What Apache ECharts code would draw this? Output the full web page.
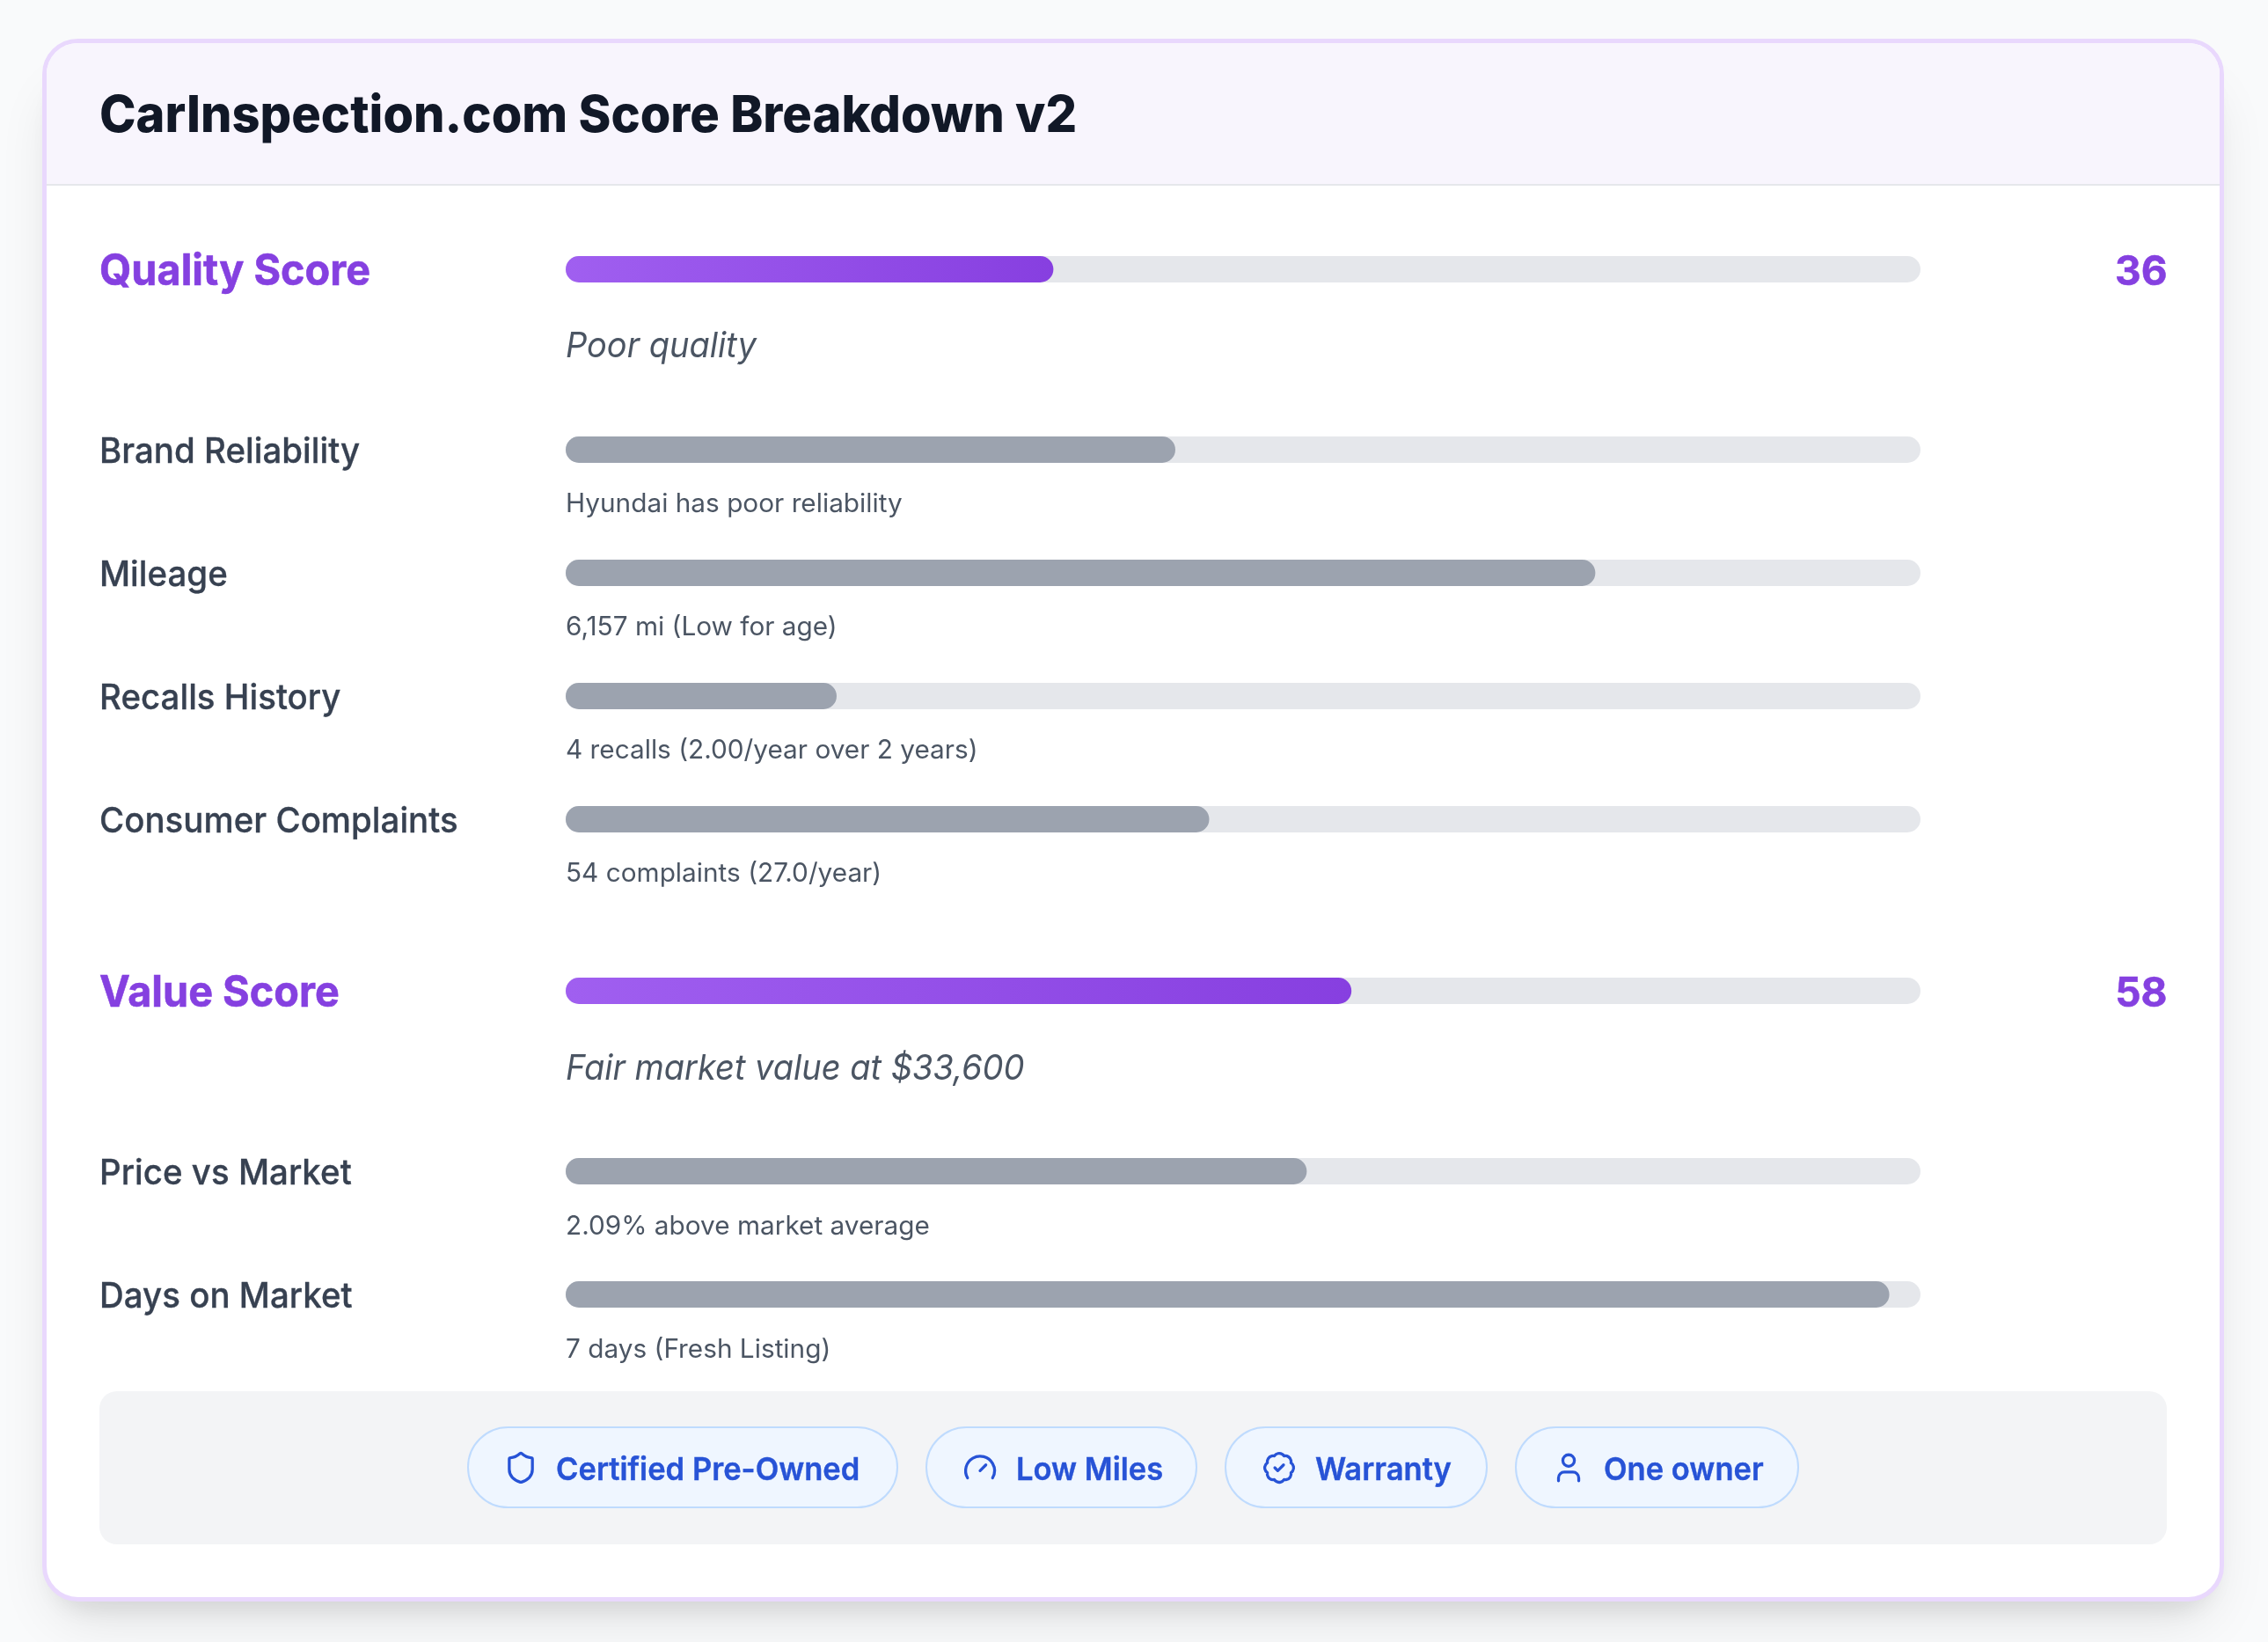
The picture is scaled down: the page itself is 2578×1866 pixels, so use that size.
<!DOCTYPE html>
<html>
<head>
<meta charset="utf-8">
<style>html,body{margin:0;padding:0;background:#f9fafb}#chart{width:2578px;height:1866px}</style>
<script src="https://cdn.jsdelivr.net/npm/echarts@6/dist/echarts.min.js"></script>
</head>
<body>
<div id="chart"></div>
<script>
// ---- data ----
const chartTitle = 'CarInspection.com Score Breakdown v2';
const categories = ['Quality Score','Brand Reliability','Mileage','Recalls History','Consumer Complaints','Value Score','Price vs Market','Days on Market'];
const scores = [36,45,76,20,47.5,58,54.7,97.7];
const shownScores = ['36','','','','','58','',''];
const isMain = [true,false,false,false,false,true,false,false];
const notes = ['Poor quality','Hyundai has poor reliability','6,157 mi (Low for age)','4 recalls (2.00/year over 2 years)','54 complaints (27.0/year)','Fair market value at $33,600','2.09% above market average','7 days (Fresh Listing)'];
const badges = ['Certified Pre-Owned','Low Miles','Warranty','One owner'];

// ---- layout ----
const F = 'Inter, sans-serif';
const rowCenters = [306,511,651,791,931,1126,1331,1471];
const noteCenters = [391,570,710,850,990,1212,1391,1531];
const trackL = 643, trackW = 1540, trackH = 30;
const textDy = 3;
const pillBoxes = [[531,1021],[1052,1361],[1392,1691],[1722,2045]];
const iconCenters = [592,1114,1454,1783];
const textX = [632,1155,1495,1823];
const iconPaths = [
 ['M20 13c0 5-3.5 7.5-7.66 8.95a1 1 0 0 1-.67-.01C7.5 20.5 4 18 4 13V6a1 1 0 0 1 1-1c2 0 4.5-1.2 6.24-2.72a1.17 1.17 0 0 1 1.52 0C14.51 3.81 17 5 19 5a1 1 0 0 1 1 1z'],
 ['M12 14l4-4M3.34 19a10 10 0 1 1 17.32 0'],
 ['M3.85 8.62a4 4 0 0 1 4.78-4.77 4 4 0 0 1 6.74 0 4 4 0 0 1 4.78 4.78 4 4 0 0 1 0 6.74 4 4 0 0 1-4.77 4.78 4 4 0 0 1-6.75 0 4 4 0 0 1-4.78-4.77 4 4 0 0 1 0-6.76Z','M9 12l2 2 4-4'],
 ['M19 21v-2a4 4 0 0 0-4-4H9a4 4 0 0 0-4 4v2','M16 7a4 4 0 1 1-8 0 4 4 0 0 1 8 0Z']
];

const C = {purple:'#8540e0', track:'#e5e7eb', bar:'#9ca3af', label:'#374151', note:'#4b5563', blue:'#2753d6'};

const grids=[], xAxes=[], yAxes=[], series=[], g=[];
categories.forEach((name,i)=>{
  const main = isMain[i];
  grids.push({left:trackL, width:trackW, top:rowCenters[i]-trackH/2, height:trackH});
  xAxes.push({type:'value', gridIndex:i, min:0, max:100, show:false});
  yAxes.push({type:'category', gridIndex:i, data:[name], show:false});
  series.push({type:'bar', xAxisIndex:i, yAxisIndex:i, data:[scores[i]], barWidth:trackH, silent:true,
    showBackground:true, backgroundStyle:{color:C.track, borderRadius:15},
    itemStyle:{borderRadius:15, color: main ? new echarts.graphic.LinearGradient(0,0,1,0,[{offset:0,color:'#a05ff0'},{offset:1,color:'#873fe0'}]) : C.bar}});
  g.push({type:'text', z:10, x:113, y:rowCenters[i]+textDy, scaleX: main?0.955:0.962,
    style:{text:name, fontFamily:F, fontSize: main?49:40, fontWeight: main?700:500, fill: main?C.purple:C.label,
      stroke: main?C.purple:C.label, lineWidth: main?0.6:0.3, verticalAlign:'middle'}});
  g.push({type:'text', z:10, x:trackL, y:noteCenters[i]+textDy, scaleX: main?0.95:1.006, style:{text:notes[i], fontFamily:F,
    fontSize: main?40:29.6, fontStyle: main?'italic':'normal', fontWeight:400, fill:C.note, verticalAlign:'middle'}});
  if(shownScores[i]) g.push({type:'text', z:10, x:2463.5, y:rowCenters[i]+textDy+1, style:{text:shownScores[i], fontFamily:F, fontSize:46, fontWeight:700, fill:C.purple, stroke:C.purple, lineWidth:0.5, align:'right', verticalAlign:'middle'}});
});

// card behind everything
const bg = [
 {type:'rect', z:-10, shape:{x:60,y:84,width:2456,height:1736,r:40}, style:{fill:'#fff', shadowBlur:62, shadowOffsetY:20, shadowColor:'rgba(0,0,0,0.10)'}},
 {type:'rect', z:-10, shape:{x:60,y:70,width:2456,height:1745,r:40}, style:{fill:'#fff', shadowBlur:25, shadowOffsetY:14, shadowColor:'rgba(0,0,0,0.08)'}},
 {type:'rect', z:-9, shape:{x:50.5,y:46.5,width:2475,height:1771,r:38}, style:{fill:'#fff', stroke:'#e9d8fd', lineWidth:5}},
 {type:'rect', z:-8, shape:{x:53,y:49,width:2470,height:161,r:[35,35,0,0]}, style:{fill:'#f8f5fd'}},
 {type:'rect', z:-8, shape:{x:53,y:209,width:2470,height:2}, style:{fill:'#e5e7eb'}},
 {type:'text', z:10, x:113, y:130+textDy, scaleX:0.965, style:{text:chartTitle, fontFamily:F, fontSize:58, fontWeight:800, fill:'#111827', verticalAlign:'middle'}},
 {type:'rect', z:-8, shape:{x:113,y:1581,width:2350,height:174,r:20}, style:{fill:'#f3f4f6'}}
];
badges.forEach((t,i)=>{
  const [a,b]=pillBoxes[i];
  bg.push({type:'rect', z:1, shape:{x:a+1,y:1622,width:b-a-2,height:91,r:45.5}, style:{fill:'#eff6ff', stroke:'#bfdbfe', lineWidth:2}});
  iconPaths[i].forEach((p,k)=>{
    const nm='badgeIcon'+i+'_'+k;
    echarts.graphic.registerShape(nm, echarts.graphic.extendPath(p,{}));
    bg.push({type:nm, z:2, x:iconCenters[i]-19.7, y:1668-19.7, scaleX:1.644, scaleY:1.644,
      shape:{}, style:{fill:'none', stroke:C.blue, lineWidth:2, lineCap:'round', lineJoin:'round'}});
  });
  bg.push({type:'text', z:2, x:textX[i], y:1668+textDy, scaleX:0.96, style:{text:t, fontFamily:F, fontSize:36, fontWeight:600, fill:C.blue, stroke:C.blue, lineWidth:0.4, verticalAlign:'middle'}});
});

const chart = echarts.init(document.getElementById('chart'), null, {renderer:'canvas'});
chart.setOption({animation:false, backgroundColor:'#f9fafb', grid:grids, xAxis:xAxes, yAxis:yAxes, series:series, graphic:{elements:bg.concat(g)}});
</script>
</body>
</html>
